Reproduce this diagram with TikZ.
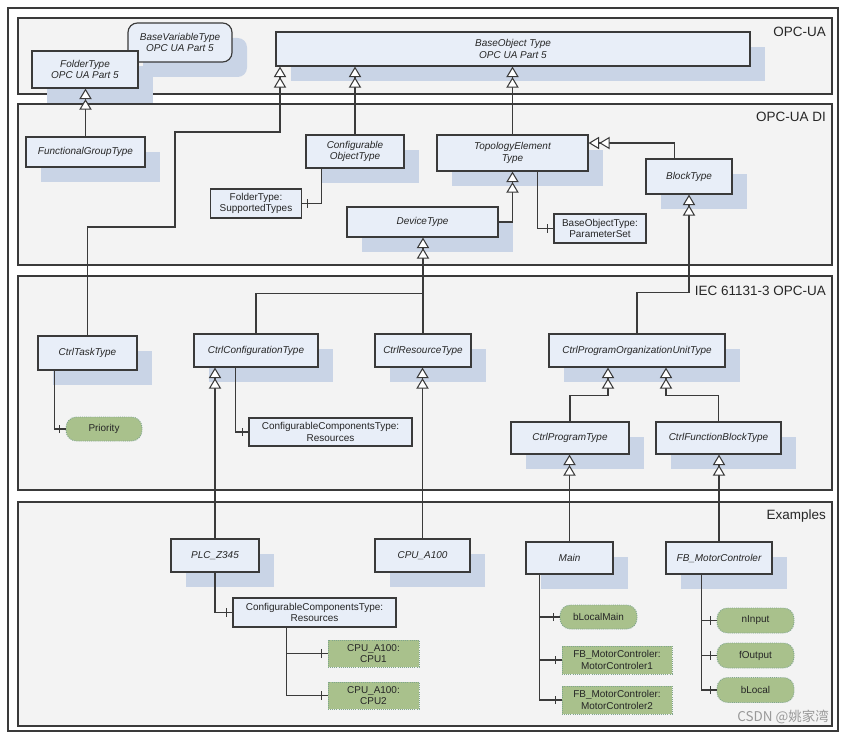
\documentclass[tikz,border=0pt]{standalone}
\usepackage{fontspec}
\setmainfont{Liberation Sans}
\newfontfamily\cjkfont{Noto Sans CJK SC}
\usetikzlibrary{arrows.meta, shadows, decorations.markings}

\definecolor{linec}{HTML}{3A3A3A}
\definecolor{boxc}{HTML}{E8EEF8}
\definecolor{shadc}{HTML}{C9D4E6}
\definecolor{greenc}{HTML}{A9C18C}
\definecolor{greenl}{HTML}{7FA58C}
\definecolor{secc}{HTML}{F3F3F3}

\begin{document}
\begin{tikzpicture}[x=0.03cm, y=-0.03cm, every text node part/.style={align=center},
  wh/.style 2 args={minimum width=#1*0.03cm, minimum height=#2*0.03cm}]

\tikzstyle{frame}=[draw=linec, line width=0.9pt]
\tikzstyle{seclabel}=[anchor=east, inner sep=0pt, font=\fontsize{11.5}{13}\selectfont, text=black!85]
\tikzstyle{box}=[draw=linec, line width=1pt, fill=boxc, inner sep=0pt, text=black!85,
  font=\fontsize{8.5}{10}\selectfont\itshape,
  general shadow={fill=shadc, shadow xshift=0.45cm, shadow yshift=-0.45cm}]
\tikzstyle{rbox}=[box, rounded corners=8pt]
\tikzstyle{ibox}=[draw=linec, line width=1pt, fill=boxc, inner sep=0pt, text=black!85,
  font=\fontsize{8.5}{10}\selectfont]
\tikzstyle{gvar}=[draw=greenl, densely dotted, line width=0.8pt, fill=greenc, rounded corners=9pt,
  inner sep=0pt, text=black!85, font=\fontsize{8.5}{10}\selectfont]
\tikzstyle{ginst}=[draw=greenl, densely dotted, line width=0.8pt, fill=greenc, inner sep=0pt,
  text=black!85, font=\fontsize{8.5}{10}\selectfont]
\tikzstyle{edge}=[draw=linec, line width=0.9pt]
\tikzstyle{inh}=[edge, -{Triangle[open, length=9pt, width=10.5pt, fill=white]Triangle[open, length=9pt, width=10.5pt, fill=white]}]
\tikzstyle{part}=[edge, postaction={decorate, decoration={markings,
  mark=at position -5pt with {\draw [linec, line width=0.9pt] (0,-3.5pt) -- (0,3.5pt);}}}]

\useasboundingbox (0,0) rectangle (844,734);

% frames
\draw [frame, fill=white] (8,8) rectangle (838,731);
\draw [frame, fill=secc] (18,18) rectangle (832,94);
\draw [frame, fill=secc] (18,104) rectangle (832,265);
\draw [frame, fill=secc] (18,276) rectangle (832,490);
\draw [frame, fill=secc] (18,502) rectangle (832,726);

\node [seclabel] (lopc)  at (826,32)  {OPC-UA};
\node [seclabel] (ldi)   at (826,117) {OPC-UA DI};
\node [seclabel] (liec)  at (826,291) {IEC 61131-3 OPC-UA};
\node [seclabel] (lexam) at (826,516) {Examples};

% OPC-UA
\node [rbox, wh={104}{39}] (basevar) at (180,42.5)  {BaseVariableType\\OPC UA Part 5};
\node [box,  wh={106}{37}] (folder)  at (85,69.5)   {FolderType\\OPC UA Part 5};
\node [box,  wh={474}{34}] (baseobj) at (513,49)    {BaseObject Type\\OPC UA Part 5};

% OPC-UA DI
\node [box,  wh={119}{30}] (fgt)      at (85.5,152)   {FunctionalGroupType};
\node [box,  wh={98}{33}]  (cfgobj)   at (355,151.5)  {Configurable\\ObjectType};
\node [ibox, wh={91}{29}]  (suptypes) at (256,203.5)  {FolderType:\\SupportedTypes};
\node [box,  wh={151}{36}] (topo)     at (512.5,153)  {TopologyElement\\Type};
\node [box,  wh={151}{30}] (device)   at (422.5,222)  {DeviceType};
\node [ibox, wh={92}{29}]  (paramset) at (600,228.5)  {BaseObjectType:\\ParameterSet};
\node [box,  wh={86}{35}]  (block)    at (689,176.5)  {BlockType};

% IEC 61131-3
\node [box,  wh={99}{34}]  (ctask) at (87.5,353)   {CtrlTaskType};
\node [gvar, wh={76}{24}]  (prio)  at (104,429)    {Priority};
\node [box,  wh={124}{33}] (cconf) at (256,350.5)  {CtrlConfigurationType};
\node [ibox, wh={163}{28}] (cres1) at (330.5,432)  {ConfigurableComponentsType:\\Resources};
\node [box,  wh={96}{33}]  (cres)  at (423,350.5)  {CtrlResourceType};
\node [box,  wh={176}{33}] (cpou)  at (637,350.5)  {CtrlProgramOrganizationUnitType};
\node [box,  wh={118}{32}] (cprog) at (570,438)    {CtrlProgramType};
\node [box,  wh={125}{32}] (cfb)   at (718.5,438)  {CtrlFunctionBlockType};

% Examples
\node [box,   wh={88}{33}]  (plc)   at (215,555.5)   {PLC\_Z345};
\node [box,   wh={95}{33}]  (cpua)  at (422.5,555.5) {CPU\_A100};
\node [ibox,  wh={163}{29}] (res2)  at (314.5,612.5) {ConfigurableComponentsType:\\Resources};
\node [ginst, wh={91}{27}]  (cpu1)  at (373.5,653.5) {CPU\_A100:\\CPU1};
\node [ginst, wh={91}{27}]  (cpu2)  at (373.5,695.5) {CPU\_A100:\\CPU2};
\node [box,   wh={87}{32}]  (main)  at (569.5,558)   {Main};
\node [box,   wh={106}{32}] (fbmc)  at (719,558)     {FB\_MotorControler};
\node [gvar,  wh={77}{24}]  (blm)   at (598.5,617)   {bLocalMain};
\node [ginst, wh={110}{28}] (mc1)   at (617,660)     {FB\_MotorControler:\\MotorControler1};
\node [ginst, wh={110}{28}] (mc2)   at (617,700)     {FB\_MotorControler:\\MotorControler2};
\node [gvar,  wh={77}{25}]  (ninput)  at (755.5,620.5) {nInput};
\node [gvar,  wh={77}{25}]  (foutput) at (755.5,655.5) {fOutput};
\node [gvar,  wh={77}{25}]  (blocal)  at (755.5,690)   {bLocal};

\node [font=\cjkfont\fontsize{11.5}{13}\selectfont, text=black!40, anchor=east, inner sep=0pt] (wmark) at (829,717) {CSDN @姚家湾};

% subtypes
\path [inh] (fgt.north) -- (fgt.north |- folder.south);
\path [inh] (ctask.north) |- (175,227) |- (280,132) -- (280,0 |- baseobj.south);
\path [inh] (cfgobj.north) -- (cfgobj.north |- baseobj.south);
\path [inh] (topo.north) -- (topo.north |- baseobj.south);
\path [inh] (device.east) -| (topo.south);
\path [inh] ([xshift=29*0.03cm]block.north west) |- ([yshift=10*0.03cm]topo.east);
\path [inh] (cres.north) -- (cres.north |- device.south);
\path [edge] (cconf.north) |- ([yshift=40*0.03cm]cres.north);
\path [inh] (cpou.north) -- ++(0,-41) -| (block.south);
\path [inh] (cprog.north) -- ++(0,-26) -| ([xshift=-29*0.03cm]cpou.south);
\path [inh] (cfb.north) -- ++(0,-26) -| ([xshift=29*0.03cm]cpou.south);
\path [inh] (plc.north) -- (plc.north |- cconf.south);
\path [inh] (cpua.north) -- (cpua.north |- cres.south);
\path [inh] (main.north) -- (main.north |- cprog.south);
\path [inh] (fbmc.north) -- (fbmc.north |- cfb.south);

% components
\path [part] ([xshift=16*0.03cm]cfgobj.south west) |- (suptypes.east);
\path [part] ([xshift=101*0.03cm]topo.south west) |- (paramset.west);
\path [part] ([xshift=17*0.03cm]ctask.south west) |- (prio.west);
\path [part] ([xshift=42*0.03cm]cconf.south west) |- (cres1.west);
\path [part] (plc.south) |- (res2.west);
\path [part] ([xshift=54*0.03cm]res2.south west) |- (cpu1.west);
\path [part] ([xshift=54*0.03cm]res2.south west) |- (cpu2.west);
\path [part] ([xshift=14*0.03cm]main.south west) |- (blm.west);
\path [part] ([xshift=14*0.03cm]main.south west) |- (mc1.west);
\path [part] ([xshift=14*0.03cm]main.south west) |- (mc2.west);
\path [part] ([xshift=36*0.03cm]fbmc.south west) |- (ninput.west);
\path [part] ([xshift=36*0.03cm]fbmc.south west) |- (foutput.west);
\path [part] ([xshift=36*0.03cm]fbmc.south west) |- (blocal.west);

\end{tikzpicture}
\end{document}
